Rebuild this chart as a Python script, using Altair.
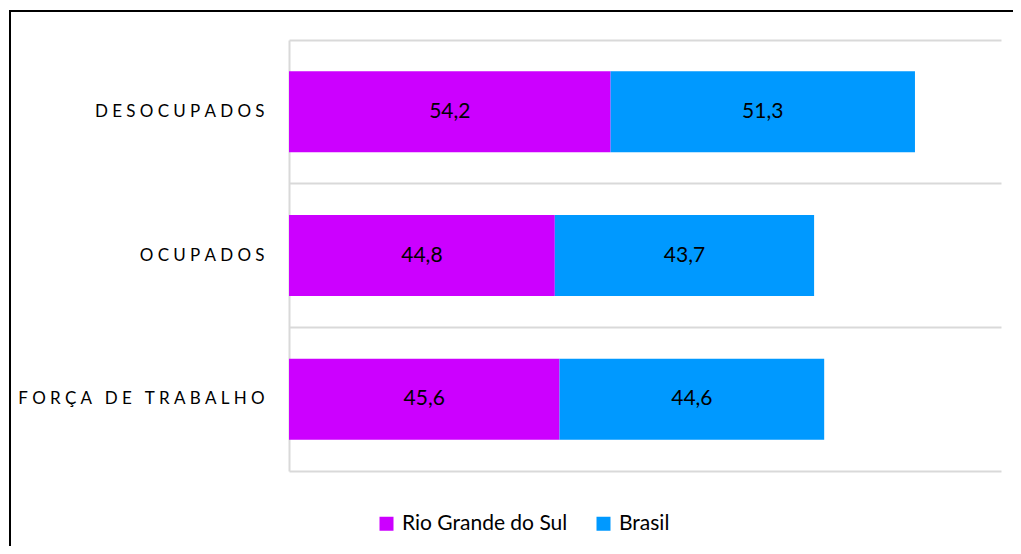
import altair as alt
import pandas as pd

categories = ["DESOCUPADOS", "OCUPADOS", "FORÇA DE TRABALHO"]
series = ["Rio Grande do Sul", "Brasil"]
rs_values = [54.2, 44.8, 45.6]
br_values = [51.3, 43.7, 44.6]
colors = ["#CC00FF", "#0099FF"]

GAP = "\u2009\u2009"


def spaced(c):
    return GAP.join(list(c))


rows = []
for i, c in enumerate(categories):
    for j, (s, vals) in enumerate(zip(series, [rs_values, br_values])):
        rows.append({"cat": spaced(c), "series": s, "order": j, "value": vals[i],
                     "label": f"{vals[i]:.1f}".replace(".", ",")})
df = pd.DataFrame(rows)
cat_order = [spaced(c) for c in categories]

FONT = "Lato"

y_enc = alt.Y("cat:N", sort=cat_order, title=None,
              scale=alt.Scale(paddingInner=0, paddingOuter=0),
              axis=alt.Axis(bandPosition=0, grid=True, gridColor="#d9d9d9", gridWidth=2,
                            domainColor="#d9d9d9", domainWidth=2, ticks=False,
                            labelFont=FONT, labelFontSize=17, labelColor="#000000",
                            labelLimit=300, labelPadding=25, minExtent=281, maxExtent=281))

base = alt.Chart(df).transform_stack(
    stack="value", groupby=["cat"], as_=["x0", "x1"], sort=[alt.SortField("order")]
).transform_calculate(mid="(datum.x0 + datum.x1) / 2")

x_scale = alt.Scale(domain=[0, 120], nice=False)

bars = base.mark_bar(size=81).encode(
    y=y_enc,
    x=alt.X("x0:Q", scale=x_scale, title=None,
            axis=alt.Axis(labels=False, ticks=False, grid=False, domainColor="#d9d9d9", domainWidth=2)),
    x2="x1:Q",
    color=alt.Color("series:N", sort=series, title=None,
                    scale=alt.Scale(domain=series, range=colors),
                    legend=alt.Legend(orient="none", legendX=87, legendY=473, direction="horizontal",
                                      symbolType="square", symbolSize=196, symbolStrokeWidth=0,
                                      labelFont=FONT, labelFontSize=21, labelColor="#000000",
                                      labelLimit=300, labelOffset=5, columnPadding=25)),
)

texts = base.mark_text(font=FONT, fontSize=21, color="#000000").encode(
    y=alt.Y("cat:N", sort=cat_order),
    x=alt.X("mid:Q", scale=x_scale),
    text="label:N",
)

border_df = pd.DataFrame({"k": [0]})
border = alt.Chart(border_df).mark_rect(fill=None, stroke="#000000", strokeWidth=2).encode(
    x=alt.value(-279), x2=alt.value(2000), y=alt.value(-29), y2=alt.value(1000)
)

chart = alt.layer(bars, texts, border).properties(
    width=712, height=431,
    autosize=alt.AutoSizeParams(type="none"),
    padding={"left": 281, "top": 32, "right": 12, "bottom": 75},
).configure(background="#ffffff").configure_view(stroke=None)

chart.save("out.html", embed_options={"renderer": "svg", "actions": False})
